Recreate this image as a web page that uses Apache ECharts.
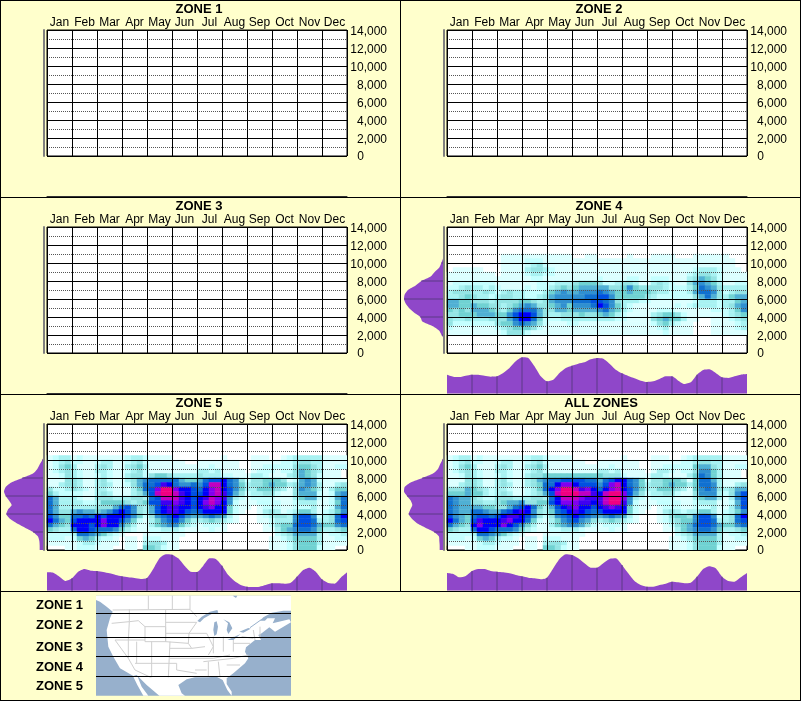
<!DOCTYPE html>
<html><head><meta charset="utf-8">
<script src="https://cdn.jsdelivr.net/npm/echarts@6/dist/echarts.min.js"></script>
<style>html,body{margin:0;padding:0;background:#ffffcc}#c{width:801px;height:701px}</style></head>
<body><div id="c"></div>
<script>
const months=['Jan','Feb','Mar','Apr','May','Jun','Jul','Aug','Sep','Oct','Nov','Dec'];
const titles=['ZONE 1','ZONE 2','ZONE 3','ZONE 4','ZONE 5','ALL ZONES'];
const legendNames=['ZONE 1','ZONE 2','ZONE 3','ZONE 4','ZONE 5'];
const levelColors=['#ffffff','#dcffff','#c4ffff','#a8f2f2','#94e4e4','#70d2d2','#50b0d4','#3090d0','#1070d0','#0050e0','#0000f8','#4000f0','#8000f0','#c000c0','#f00080'];
// Heat levels per 500 m band, top band first; each row has 50 half-week columns.
const zone4Rows=[
"0000000001111111111110011 0000010001111000111111000",
"0000000001111222111111111 1111111111111111111111100",
"0000000001111234211111111 1111111111111111111111100",
"0111110001111344321111111 1111111111111111233321110",
"1111111101111233221111111 1111111111111112344321111",
"1111111111111122111111111 2111122112221113465421111",
"1222222211111112223334555 4223443113432114676531122",
"2234332321111212234545666 6644575444432223587643333",
"3444334323433222356766777 8765565554332223688742344",
"3345433234433223467777788 9975555543222222468643566",
"6655444344445543467778889 9874333221111111233323356",
"6655655443456764456757778 a975321111111212333323467",
"5454666543578886446656666 7865321111222111111222357",
"445556665579aa96433444544 5653211113455421111112345",
"433433344468aa85222333333 3332211114565531100111234",
"4222222245578764211122111 1111111112453211000111123",
"2111111123455542111111111 1111111111231111000111123",
"1111111112444211111111111 1111111111121111000111111",
"0000000000000000000000000 0000000000000000000000000",
"0000000000000000000000000 0000000000000000000000000",
"0000000000000000000000000 0000000000000000000000000",
"0000000000000000000000000 0000000000000000000000000"];
const zone5Rows=[
"1233121111111233211110000 0000100001110012333331111",
"1234221123311234211111100 1111111001111122344331111",
"1245311134311345311111111 1121111001122222455431122",
"1234321133211234211111111 3323111101222122465431110",
"1124321123211344245543333 4333221113321113465421110",
"1114431134211346788888655 6899a87424455541267621111",
"1134431134311246889ba8778 79dda87534456553467631134",
"422343213321113589ceecaa9 8acda97533555431476531355",
"532222113431113469deedba9 9acdb96423344211466621267",
"863332114443334438 9dddba9 abdcb73212222111356621268",
"8633332235555434599bbcba9 acdca72111222211233311258",
"863333334446897 4369abbaa9 abcaa52110122211222311268",
"864467665679a974369abba98 9aaaa52100134312355312357",
"97558898a9aaa97524789a976 678763100012344379972348a",
"a8659aaaacaa9752135789753 3454321000112333799833489",
"8654aaa9acaa7531135677532 1222100000012455899865578",
"54338aa988875321122333211 1121100000011356788753345",
"2222388765321000111111100 0000000000000234666631223",
"2221256532210110222111000 0000000000001123555531122",
"1111123321110110344311000 0000000000001112455531111",
"0001122211100110554211000 0000000000001112455521100"];
const allRows=[
"1233121111111233211110000 0000100001110012333331111",
"1234221123311234211111100 1111111001111122344331111",
"1245311134311345311111111 1121111001122222566431122",
"1234321133211234211111111 3323111101332122477531110",
"1124321123211344555555555 5444211113321113587531110",
"1114431134211346788999988 689aa87524455541588631111",
"113443113431134588acca999 79cda87534456553588731134",
"44465432332112358aceedbca 8acda97533555431578743466",
"555655323431123469deeeddb adeec96423344211477732479",
"876643224443334438adddcbb bdeec73212222111356631379",
"876644334566744559acccbba bdeeb72111222211233311269",
"8766665544689a85369abcaa9 abcba52110122211222311369",
"87668876689aba743589aba98 9aaaa52100134323355312357",
"976589989abba97424789a987 678763100012455479972348a",
"a8659baaabcaa852135789764 3454321000123455799833489",
"8654acaaaca97531135677642 1222100000012456899865578",
"54338aa988875321122333211 1121100000011356788753345",
"2222388765321000111111100 0000000000000234666631223",
"2221256532210110222111000 0000000000001123555531122",
"1111123321110110344311000 0000000000001112455531111",
"0001122211100110554211000 0000000000001112455521100"];
// Bottom profiles, four samples per month (height units).
const zone4Month=[57,51,50,54,57,57,54,51,52,62,77,97,109,107,82,52,37,42,62,77,84,90,94,103,107,105,90,72,61,53,46,39,35,37,44,52,52,39,29,34,57,71,73,62,49,47,52,57,59];
const zone5Month=[55,54,42,29,37,57,65,60,59,56,52,47,43,40,38,35,38,65,97,109,108,97,75,57,56,75,97,95,75,47,29,17,12,11,12,17,22,22,21,24,42,62,69,57,34,23,21,39,55];
const allMonth=[53,50,40,44,59,65,65,59,57,55,52,47,43,39,37,34,39,67,95,109,107,97,82,69,69,82,95,97,77,52,29,17,12,12,17,21,27,25,22,24,42,65,73,67,42,29,27,40,53];
// Left profiles, one sample per 500 m from 0 to 14000.
const zone4Depth=[0,0,0,0,7,15,35,65,71,90,105,115,120,118,108,85,68,40,28,14,8,3,0,0,0,0,0,0,0];
const zone5Depth=[13,13,14,18,33,58,83,103,113,108,97,105,115,120,115,98,65,33,20,13,5,0,0,0,0,0,0,0,0];
const allDepth=[13,13,14,15,30,57,82,97,106,101,95,100,111,120,118,100,65,33,18,12,5,0,0,0,0,0,0,0,0];

const colX=[0,400], rowY=[0,197,394];
const heatRows=[null,null,null,zone4Rows,zone5Rows,allRows];
const monthProfiles=[null,null,null,zone4Month,zone5Month,allMonth];
const depthProfiles=[null,null,null,zone4Depth,zone5Depth,allDepth];
const purple='#8f47c9', tickPurple='#5b3a85';
const heatCols=Array.from({length:50},(_,i)=>i), heatBands=Array.from({length:28},(_,i)=>i);
const sampleCats=Array.from({length:49},(_,i)=>i), depthCats=Array.from({length:29},(_,i)=>i);

const grid=[],xAxis=[],yAxis=[],series=[],title=[],heatIdx=[];
function addGrid(g){grid.push(g);return grid.length-1;}
function lineRender(horizontal){return function(params,api){
  const a=horizontal?api.coord([0,api.value(1)]):api.coord([api.value(0),0]);
  const b=api.coord([api.value(0),api.value(1)]);
  return {type:'line',shape:{x1:a[0],y1:a[1],x2:b[0],y2:b[1]},style:{stroke:tickPurple,lineWidth:1}};
};}
titles.forEach((t,i)=>{
  const ox=colX[i%2], oy=rowY[Math.floor(i/2)];
  title.push({text:t,left:ox+(i===5?201:199),top:oy+3,padding:0,textAlign:'center',
    textStyle:{fontFamily:'Liberation Sans',fontSize:13,fontWeight:'bold',color:'#000'}});
  // main plot
  const g=addGrid({left:ox+47,top:oy+30,width:300,height:126,show:true,backgroundColor:'#fff',borderColor:'#000',borderWidth:1});
  const xHeat=xAxis.length;
  xAxis.push({gridIndex:g,type:'category',data:heatCols,show:false});
  xAxis.push({gridIndex:g,type:'category',data:months,position:'top',z:5,
    axisLine:{show:false},axisTick:{show:false},
    axisLabel:{interval:0,margin:1,color:'#000',fontFamily:'Liberation Sans',fontSize:12},
    splitLine:{show:true,interval:0,lineStyle:{color:'#000',width:1}}});
  const yHeat=yAxis.length;
  yAxis.push({gridIndex:g,type:'category',data:heatBands,show:false});
  yAxis.push({gridIndex:g,type:'value',min:0,max:14000,interval:2000,position:'right',z:5,
    axisLine:{show:false},axisTick:{show:false},
    minorTick:{show:false,splitNumber:2},
    minorSplitLine:{show:true,lineStyle:{color:'#555',type:[1,1],width:1}},
    splitLine:{show:true,lineStyle:{color:'#000',width:1}},
    axisLabel:{margin:40,align:'right',color:'#000',fontFamily:'Liberation Sans',fontSize:12,padding:[4,0,0,0],
      formatter:v=>v===0?'{z|0}':v.toLocaleString('en-US'),
      rich:{z:{fontFamily:'Liberation Sans',fontSize:12,color:'#000',padding:[0,23,3,0]}}}});
  if(heatRows[i]){
    const data=[];
    heatRows[i].forEach((row,r)=>{
      const cells=row.replace(/ /g,''), band=heatRows[i].length-1-r;
      for(let c=0;c<cells.length&&c<50;c++){
        const lv=parseInt(cells[c],16);
        if(lv>0)data.push([c,band,lv]);
      }
    });
    heatIdx.push(series.length);
    series.push({type:'heatmap',xAxisIndex:xHeat,yAxisIndex:yHeat,data,silent:true,progressive:0,z:2,itemStyle:{borderWidth:0}});
  }
  // bottom profile
  const gb=addGrid({left:ox+47,top:oy+160,width:300,height:36.7});
  const xb=xAxis.length,yb=yAxis.length;
  xAxis.push({gridIndex:gb,type:'category',boundaryGap:false,data:sampleCats,show:true,axisLabel:{show:false},axisTick:{show:false},
    axisLine:{show:!monthProfiles[i],lineStyle:{color:'#333',width:1}},splitLine:{show:false}});
  yAxis.push({gridIndex:gb,type:'value',min:0,max:110,show:false});
  const mp=monthProfiles[i];
  if(mp){
    series.push({type:'line',xAxisIndex:xb,yAxisIndex:yb,data:mp,showSymbol:false,smooth:0.2,silent:true,
      lineStyle:{width:0},itemStyle:{color:purple},areaStyle:{color:purple,opacity:1},z:2});
    const ticks=mp.map((v,k)=>[k,v]).filter(p=>p[0]%4===0&&p[0]>0&&p[0]<48);
    series.push({type:'custom',xAxisIndex:xb,yAxisIndex:yb,data:ticks,renderItem:lineRender(false),silent:true,z:3});
  }
  // left profile
  const gl=addGrid({left:ox+4,top:oy+30,width:40,height:126});
  const xl=xAxis.length,yl=yAxis.length;
  xAxis.push({gridIndex:gl,type:'value',inverse:true,min:0,max:120,show:false});
  yAxis.push({gridIndex:gl,type:'category',boundaryGap:false,data:depthCats,position:'right',z:4,
    axisLabel:{show:false},axisTick:{show:false},splitLine:{show:false},
    axisLine:{show:true,onZero:false,lineStyle:{color:'#808080',width:2}}});
  const dp=depthProfiles[i];
  if(dp){
    series.push({type:'line',xAxisIndex:xl,yAxisIndex:yl,data:dp.map((v,k)=>[v,k]),showSymbol:false,smooth:0.2,silent:true,
      lineStyle:{width:0},itemStyle:{color:purple},areaStyle:{color:purple,opacity:1},z:2});
    const ticks=dp.map((v,k)=>[v,k]).filter(p=>p[1]%4===0&&p[0]>0&&p[1]>0);
    series.push({type:'custom',xAxisIndex:xl,yAxisIndex:yl,data:ticks,renderItem:lineRender(true),silent:true,z:3});
  }
});

// frame rules
function bar(x,y,w,h){return {type:'rect',shape:{x,y,width:w,height:h},style:{fill:'#000'},z:50,silent:true};}
const frame=[bar(0,0,801,1),bar(0,0,1,701),bar(800,0,1,701),bar(0,700,801,1),bar(0,197,801,1),bar(0,394,801,1),bar(0,591,801,1),bar(400,0,1,591)];
// legend labels
const legendY=[605,625,647,667,686];
const legendTexts=legendNames.map((t,i)=>({type:'text',x:36,y:legendY[i],silent:true,z:50,
  style:{text:t,fill:'#000',font:'bold 13px "Liberation Sans"',verticalAlign:'middle',textVerticalAlign:'middle'}}));
// reference map (decoration, in 3x crop units)
const land=[[288,17],[873,17],[873,62],[850,62],[815,68],[790,82],[780,92],[795,92],[802,85],[825,85],[818,100],[868,88],[873,97],[825,125],[808,112],[785,130],[775,135],[783,150],[765,150],[750,162],[738,172],[735,185],[745,205],[735,220],[700,250],[680,265],[680,282],[695,305],[695,317],[682,300],[668,270],[650,260],[620,262],[585,262],[560,268],[535,285],[545,310],[555,317],[478,317],[440,285],[410,255],[400,258],[360,235],[340,200],[325,170],[320,120],[330,85],[338,65],[320,50],[300,35],[288,30]];
const baja=[[400,260],[412,258],[425,290],[445,317],[430,317],[412,285]];
const lakes=[
 [[592,93],[605,80],[630,65],[652,60],[655,68],[635,72],[612,85],[600,97]],
 [[643,97],[650,94],[654,110],[650,133],[643,138],[640,120]],
 [[670,88],[688,97],[697,115],[685,132],[680,120],[684,100]],
 [[682,150],[710,137],[722,132],[700,150]],
 [[718,125],[745,114],[752,116],[730,128]],
 [[698,17],[712,17],[708,24]]];
const borders=[
 [[338,60],[570,58],[590,80]],[[445,17],[445,58]],[[517,17],[517,58]],[[570,17],[570,58]],
 [[388,58],[388,95],[415,92],[435,110]],[[335,100],[388,95],[385,150]],[[345,150],[435,150]],
 [[435,110],[497,110],[497,155],[435,155],[435,110]],[[497,58],[497,155]],[[497,97],[590,97]],[[497,130],[567,130]],
 [[410,155],[410,220]],[[455,155],[455,262]],[[510,155],[505,262]],[[405,220],[510,220]],
 [[385,150],[385,205],[405,240],[452,262]],[[345,150],[385,205]],
 [[510,175],[575,175]],[[510,205],[585,205]],[[510,220],[530,220],[530,240],[590,250]],
 [[497,155],[565,160],[575,175]],[[567,130],[620,130]],[[590,97],[567,130],[565,160]],
 [[575,175],[615,170]],[[585,205],[640,205]],[[620,130],[640,170],[625,195]],[[585,240],[620,240]],
 [[625,215],[625,262]],[[655,215],[660,262]],[[610,215],[700,205]],[[640,205],[690,195]],[[700,140],[700,185]],
 [[640,140],[640,190]],[[670,140],[670,185]],[[680,225],[720,225]],[[700,205],[745,195]],[[700,160],[750,160]],
 [[725,140],[760,145]],[[760,120],[765,150]],[[780,110],[780,145]]];
const ocean='#97b0cc', borderGray='#cfcfcf';
const mapKids=[{type:'rect',shape:{x:288,y:17,width:585,height:300},style:{fill:ocean}},
 {type:'polygon',shape:{points:land},style:{fill:'#fff'}},
 {type:'polygon',shape:{points:baja},style:{fill:'#fff'}},
 ...borders.map(p=>({type:'polyline',shape:{points:p},style:{stroke:borderGray,lineWidth:3,fill:null}})),
 ...lakes.map(p=>({type:'polygon',shape:{points:p},style:{fill:ocean}})),
 {type:'polyline',shape:{points:[[750,113],[785,88]]},style:{stroke:ocean,lineWidth:3,fill:null}}];
const mapGroup={type:'group',x:0,y:590,scaleX:1/3,scaleY:1/3,silent:true,z:40,children:mapKids};
const mapRules=[613,637,656,676].map(y=>bar(96,y,195,1));

const chart=echarts.init(document.getElementById('c'),null,{renderer:'canvas'});
chart.setOption({
  animation:false,backgroundColor:'#ffffcc',title,grid,xAxis,yAxis,series,tooltip:{show:false},
  visualMap:{type:'piecewise',show:false,seriesIndex:heatIdx,dimension:2,
    pieces:levelColors.map((c,i)=>({value:i,color:c}))},
  graphic:{elements:[...frame,...legendTexts,mapGroup,...mapRules]}
});
</script></body></html>
